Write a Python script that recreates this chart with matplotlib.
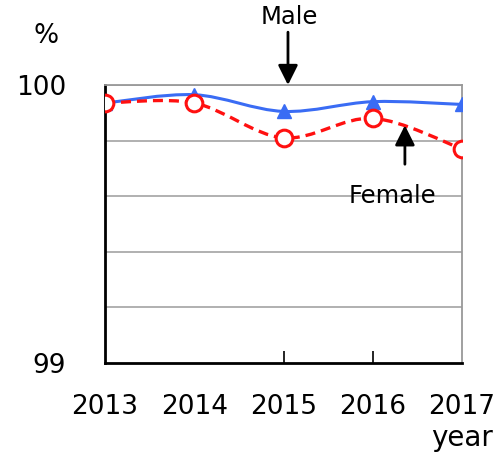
import numpy as np
import matplotlib.pyplot as plt
from matplotlib.path import Path
from matplotlib.patches import PathPatch

years = [2013, 2014, 2015, 2016, 2017]
male = [99.935, 99.965, 99.905, 99.94, 99.93]
female = [99.935, 99.935, 99.81, 99.88, 99.77]
year_labels = ['2013', '2014', '2015', '2016', '2017']


def smooth_path(x, y):
    # Catmull-Rom style cubic Bezier through the points
    pts = np.column_stack([x, y]).astype(float)
    verts = [pts[0]]
    codes = [Path.MOVETO]
    n = len(pts)
    for i in range(n - 1):
        p0 = pts[i - 1] if i > 0 else pts[i]
        p1 = pts[i]
        p2 = pts[i + 1]
        p3 = pts[i + 2] if i + 2 < n else pts[i + 1]
        c1 = p1 + (p2 - p0) / 6
        c2 = p2 - (p3 - p1) / 6
        verts += [c1, c2, p2]
        codes += [Path.CURVE4] * 3
    return Path(verts, codes)


fig = plt.figure(figsize=(5.01, 4.55), dpi=100)
ax = fig.add_axes([0.2096, 0.2022, 0.7126, 0.611])

ax.set_xlim(2013, 2017)
ax.set_ylim(99, 100)

# grid lines every 0.2
for v in [99.2, 99.4, 99.6, 99.8, 100.0]:
    ax.axhline(v, color='#aaaaaa', lw=1.3, zorder=1)

ax.add_patch(PathPatch(smooth_path(years, male), fill=False,
                       edgecolor='#3a6cf4', lw=2.2, zorder=3))
ax.plot(years, male, ls='none', marker='^', ms=9.5, color='#3a6cf4', zorder=4)

ax.add_patch(PathPatch(smooth_path(years, female), fill=False,
                       edgecolor='#ff1010', lw=2.4, ls=(0, (3, 1.8)), zorder=3))
ax.plot(years, female, ls='none', marker='o', ms=12, mfc='white',
        mec='#ff1010', mew=2.2, zorder=5)

for s in ['top', 'right']:
    ax.spines[s].set_color('#999999')
    ax.spines[s].set_linewidth(1.3)
for s in ['left', 'bottom']:
    ax.spines[s].set_color('black')
    ax.spines[s].set_linewidth(2)

ax.xaxis.remove_overlapping_locs = False
ax.set_xticks(years)
ax.set_xticklabels(year_labels, fontsize=19)
ax.set_xticks([2015, 2016], minor=True)
ax.tick_params(axis='x', which='minor', direction='in', length=9, width=1.2)
ax.xaxis.set_tick_params(which='major', length=0, pad=22)

ax.set_yticks([99, 100])
ax.set_yticklabels(['99', '100'], fontsize=19)
ax.tick_params(axis='y', length=0, pad=28)

ax.text(-0.165, 1.176, '%', transform=ax.transAxes, fontsize=19,
        ha='center', va='center')
ax.text(1.0, -0.268, 'year', transform=ax.transAxes, fontsize=20,
        ha='center', va='center')

# series labels with arrows
ax.annotate('', xy=(2015.05, 99.99), xytext=(2015.05, 100.2),
            arrowprops=dict(arrowstyle='-|>', color='black', lw=2,
                            mutation_scale=30), annotation_clip=False)
ax.text(2015.07, 100.245, 'Male', fontsize=17.5, ha='center', va='center',
        clip_on=False)
ax.annotate('', xy=(2016.36, 99.865), xytext=(2016.36, 99.705),
            arrowprops=dict(arrowstyle='-|>', color='black', lw=2,
                            mutation_scale=30))
ax.text(2016.22, 99.6, 'Female', fontsize=17.5, ha='center', va='center')

fig.savefig('out.png', dpi=100)
